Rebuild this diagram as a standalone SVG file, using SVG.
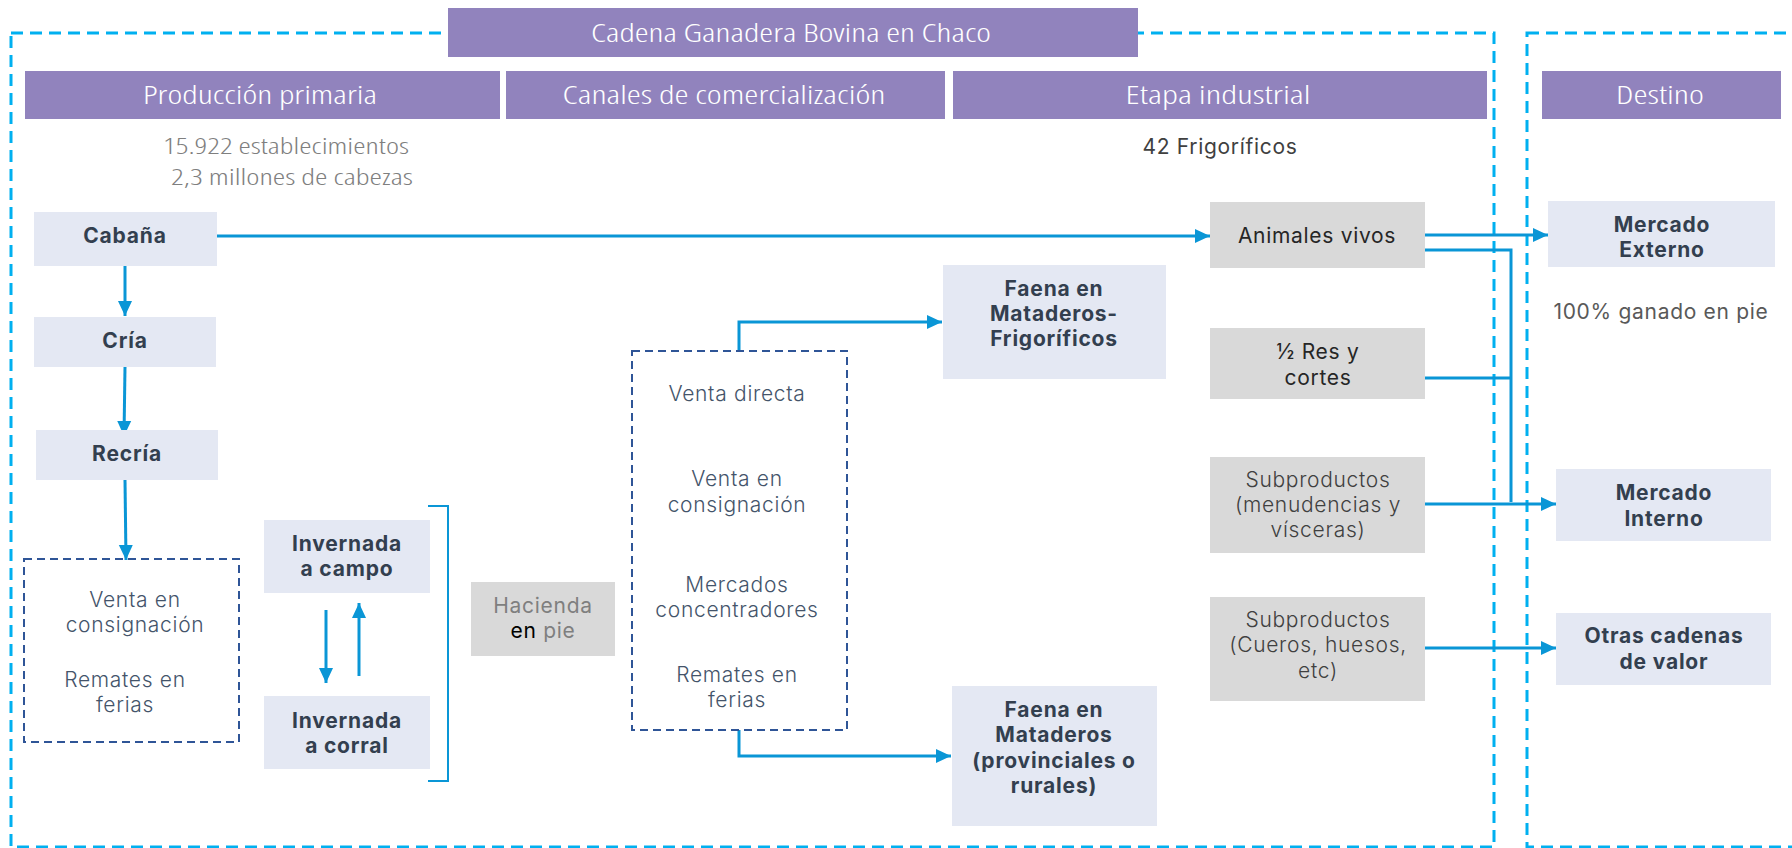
<svg xmlns="http://www.w3.org/2000/svg" width="1792" height="848" viewBox="0 0 1792 848">
<defs>
<marker id="ah" markerUnits="userSpaceOnUse" markerWidth="16" markerHeight="16" viewBox="0 0 16 16" refX="15" refY="8" orient="auto">
<path d="M0,1 L15,8 L0,15 z" fill="#0A96D6"/>
</marker>
</defs>
<style>
.hdr{fill:#9183BD}
.htx{font-family:"Open Sans","Liberation Sans Narrow","DejaVu Sans Condensed",sans-serif;font-weight:300;font-stretch:75%;font-size:26px;fill:#FFFFFF;text-anchor:middle}
.sub{font-family:"Open Sans","Liberation Sans Narrow","DejaVu Sans Condensed",sans-serif;font-weight:300;font-stretch:75%;font-size:22px;fill:#7F7F7F;text-anchor:middle}
.blue{fill:#E4E8F3}
.grey{fill:#D9D9D9}
.bt{font-family:Inter,"Noto Sans",sans-serif;font-weight:700;font-size:21px;letter-spacing:0.8px;fill:#333F4F;text-anchor:middle}
.rt{font-family:Inter,"Noto Sans",sans-serif;font-weight:300;font-size:21px;letter-spacing:0.7px;fill:#404040;text-anchor:middle}
.st{font-family:Inter,"Noto Sans",sans-serif;font-weight:300;font-size:21px;letter-spacing:0.7px;fill:#44546A;text-anchor:middle}
.outer{fill:none;stroke:#00B0F0;stroke-width:3;stroke-dasharray:12 7}
.inner{fill:none;stroke:#2F5597;stroke-width:2;stroke-dasharray:8 5}
.ln{fill:none;stroke:#0A96D6;stroke-width:3}
.arr{fill:none;stroke:#0A96D6;stroke-width:3;marker-end:url(#ah)}
</style>
<rect width="1792" height="848" fill="#FFFFFF"/>

<g id="frames">
<rect class="outer" x="11" y="33" width="1483" height="814"/>
<rect class="outer" x="1527" y="33" width="290" height="814"/>
</g>

<g id="title">
<rect class="hdr" x="448" y="8" width="690" height="49"/>
<text class="htx" x="791" y="42" textLength="400" lengthAdjust="spacingAndGlyphs">Cadena Ganadera Bovina en Chaco</text>
</g>

<g id="hdr-primaria">
<rect class="hdr" x="25" y="71" width="475" height="48"/>
<text class="htx" x="260" y="104" textLength="234" lengthAdjust="spacingAndGlyphs">Producción primaria</text>
</g>
<g id="hdr-canales">
<rect class="hdr" x="506" y="71" width="439" height="48"/>
<text class="htx" x="724" y="104" textLength="323" lengthAdjust="spacingAndGlyphs">Canales de comercialización</text>
</g>
<g id="hdr-industrial">
<rect class="hdr" x="953" y="71" width="534" height="48"/>
<text class="htx" x="1218" y="104" textLength="185" lengthAdjust="spacingAndGlyphs">Etapa industrial</text>
</g>
<g id="hdr-destino">
<rect class="hdr" x="1542" y="71" width="239" height="48"/>
<text class="htx" x="1660" y="104" textLength="88" lengthAdjust="spacingAndGlyphs">Destino</text>
</g>

<g id="stats">
<text class="sub" x="286" y="154" textLength="246" lengthAdjust="spacingAndGlyphs">15.922 establecimientos</text>
<text class="sub" x="292" y="185" textLength="242" lengthAdjust="spacingAndGlyphs">2,3 millones de cabezas</text>
<text class="rt" x="1220" y="154" style="font-weight:400">42 Frigoríficos</text>
<text class="rt" x="1661" y="319" style="font-weight:400;fill:#595959">100% ganado en pie</text>
</g>

<g id="connectors">
<line class="arr" x1="214" y1="236" x2="1210" y2="236"/>
<line class="arr" x1="125" y1="266" x2="125" y2="316"/>
<line class="arr" x1="125" y1="367" x2="124" y2="436"/>
<line class="arr" x1="125" y1="480" x2="126" y2="560"/>
<line class="arr" x1="326" y1="610" x2="326" y2="683"/>
<line class="arr" x1="359" y1="676" x2="359" y2="603"/>
<path class="ln" d="M428,506 L448,506 L448,781 L428,781" style="stroke-width:2"/>
<path class="arr" d="M739,351 L739,322 L942,322"/>
<path class="arr" d="M739,730 L739,756 L951,756"/>
<line class="arr" x1="1425" y1="235" x2="1548" y2="235"/>
<path class="ln" d="M1425,250 L1511,250 L1511,502"/>
<line class="ln" x1="1425" y1="378" x2="1511" y2="378"/>
<line class="arr" x1="1425" y1="504" x2="1556" y2="504"/>
<line class="arr" x1="1425" y1="648" x2="1556" y2="648"/>
</g>

<g id="cabana">
<rect class="blue" x="34" y="212" width="183" height="54"/>
<text class="bt" x="125" y="243">Cabaña</text>
</g>
<g id="cria">
<rect class="blue" x="34" y="317" width="182" height="50"/>
<text class="bt" x="125" y="348">Cría</text>
</g>
<g id="recria">
<rect class="blue" x="36" y="430" width="182" height="50"/>
<text class="bt" x="127" y="461">Recría</text>
</g>
<g id="venta-primaria">
<rect class="inner" x="24" y="559" width="215" height="183"/>
<text class="st" x="135" y="607">Venta en</text>
<text class="st" x="135" y="632">consignación</text>
<text class="st" x="125" y="687">Remates en</text>
<text class="st" x="125" y="712">ferias</text>
</g>
<g id="invernada-campo">
<rect class="blue" x="264" y="520" width="166" height="73"/>
<text class="bt" x="347" y="551">Invernada</text>
<text class="bt" x="347" y="576">a campo</text>
</g>
<g id="invernada-corral">
<rect class="blue" x="264" y="696" width="166" height="73"/>
<text class="bt" x="347" y="728">Invernada</text>
<text class="bt" x="347" y="753">a corral</text>
</g>
<g id="hacienda">
<rect class="grey" x="471" y="582" width="144" height="74"/>
<text class="rt" x="543" y="613" style="fill:#7F7F7F;font-weight:400">Hacienda</text>
<text class="rt" x="543" y="638" style="font-weight:400"><tspan style="fill:#000000">en</tspan><tspan style="fill:#7F7F7F"> pie</tspan></text>
</g>
<g id="canales">
<rect class="inner" x="632" y="351" width="215" height="379"/>
<text class="st" x="737" y="401">Venta directa</text>
<text class="st" x="737" y="486">Venta en</text>
<text class="st" x="737" y="512">consignación</text>
<text class="st" x="737" y="592">Mercados</text>
<text class="st" x="737" y="617">concentradores</text>
<text class="st" x="737" y="682">Remates en</text>
<text class="st" x="737" y="707">ferias</text>
</g>
<g id="faena-frigorificos">
<rect class="blue" x="943" y="265" width="223" height="114"/>
<text class="bt" x="1054" y="296">Faena en</text>
<text class="bt" x="1054" y="321">Mataderos-</text>
<text class="bt" x="1054" y="346">Frigoríficos</text>
</g>
<g id="faena-provinciales">
<rect class="blue" x="952" y="686" width="205" height="140"/>
<text class="bt" x="1054" y="717">Faena en</text>
<text class="bt" x="1054" y="742">Mataderos</text>
<text class="bt" x="1054" y="768">(provinciales o</text>
<text class="bt" x="1054" y="793">rurales)</text>
</g>
<g id="animales-vivos">
<rect class="grey" x="1210" y="202" width="215" height="66"/>
<text class="rt" x="1317" y="243" style="fill:#262626;font-weight:400">Animales vivos</text>
</g>
<g id="media-res">
<rect class="grey" x="1210" y="328" width="215" height="71"/>
<text class="rt" x="1318" y="359" style="fill:#262626;font-weight:400">½ Res y</text>
<text class="rt" x="1318" y="385" style="fill:#262626;font-weight:400">cortes</text>
</g>
<g id="subproductos-menudencias">
<rect class="grey" x="1210" y="457" width="215" height="96"/>
<text class="rt" x="1318" y="487">Subproductos</text>
<text class="rt" x="1318" y="512">(menudencias y</text>
<text class="rt" x="1318" y="537">vísceras)</text>
</g>
<g id="subproductos-cueros">
<rect class="grey" x="1210" y="597" width="215" height="104"/>
<text class="rt" x="1318" y="627">Subproductos</text>
<text class="rt" x="1318" y="652">(Cueros, huesos,</text>
<text class="rt" x="1318" y="678">etc)</text>
</g>
<g id="mercado-externo">
<rect class="blue" x="1548" y="201" width="227" height="66"/>
<text class="bt" x="1662" y="232">Mercado</text>
<text class="bt" x="1662" y="257">Externo</text>
</g>
<g id="mercado-interno">
<rect class="blue" x="1556" y="469" width="215" height="72"/>
<text class="bt" x="1664" y="500">Mercado</text>
<text class="bt" x="1664" y="526">Interno</text>
</g>
<g id="otras-cadenas">
<rect class="blue" x="1556" y="613" width="215" height="72"/>
<text class="bt" x="1664" y="643">Otras cadenas</text>
<text class="bt" x="1664" y="669">de valor</text>
</g>
</svg>
